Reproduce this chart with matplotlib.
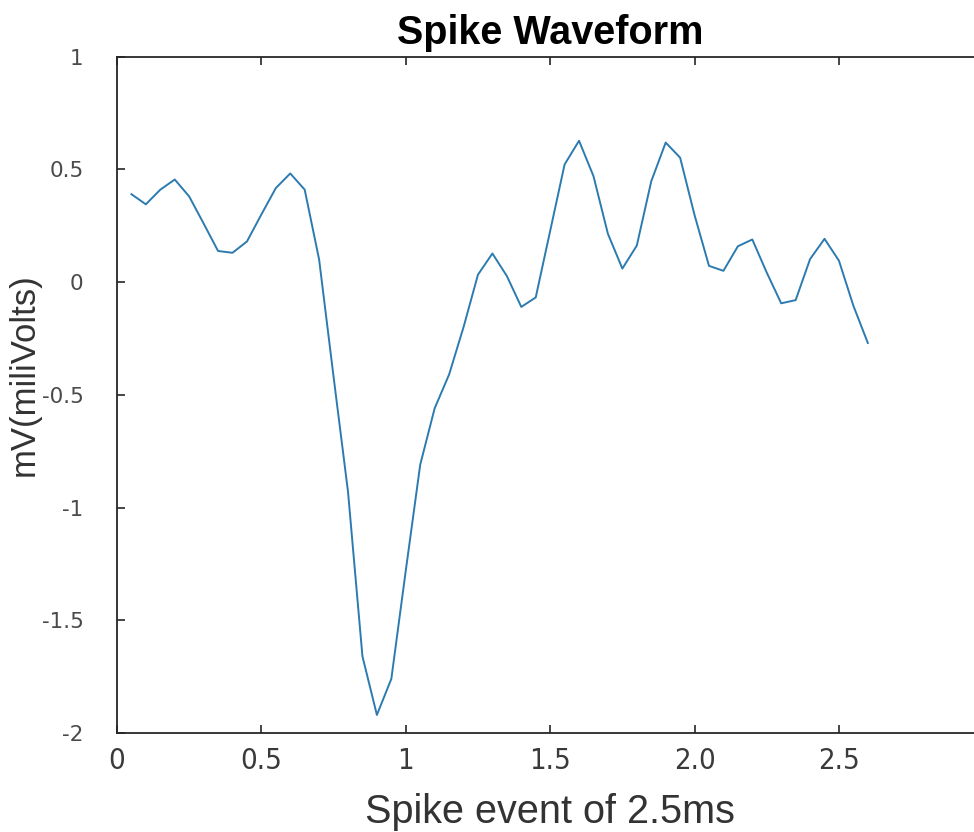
import numpy as np
import matplotlib
matplotlib.use('Agg')
import matplotlib.pyplot as plt

# spike waveform, 52 samples at 20 kHz (0.05 ms step)
sample_idx = np.arange(1, 53)
t_ms = sample_idx / 20.0
mv = [0.39, 0.345, 0.41, 0.455, 0.38, 0.26, 0.138, 0.13, 0.18, 0.30,
      0.417, 0.482, 0.41, 0.10, -0.42, -0.93, -1.66, -1.92, -1.76, -1.28,
      -0.81, -0.56, -0.41, -0.20, 0.033, 0.127, 0.027, -0.11, -0.068, 0.227,
      0.522, 0.627, 0.47, 0.214, 0.06, 0.162, 0.447, 0.619, 0.552, 0.297,
      0.072, 0.05, 0.159, 0.189, 0.042, -0.094, -0.08, 0.102, 0.192, 0.095,
      -0.105, -0.27]

xticks = [0, 0.5, 1, 1.5, 2.0, 2.5, 3.0]
xticklabels = ['0', '0.5', '1', '1.5', '2.0', '2.5', '']
yticks = [-2, -1.5, -1, -0.5, 0, 0.5, 1]
yticklabels = ['-2', '-1.5', '-1', '-0.5', '0', '0.5', '1']

fig = plt.figure(figsize=(9.74, 8.32), dpi=100)
ax = fig.add_axes([0.1201, 0.119, 0.8895, 0.8129])

ax.plot(t_ms, mv, color='#2c7bb0', lw=1.4)

ax.set_xlim(0, 3)
ax.set_ylim(-2, 1)
ax.set_xticks(xticks)
ax.set_xticklabels(xticklabels, family='DejaVu Sans', fontstretch='condensed',
                   fontweight='light', fontsize=21)
ax.set_yticks(yticks)
ax.set_yticklabels(yticklabels, family='DejaVu Sans', fontsize=15.5)

ax.tick_params(axis='x', direction='in', length=6, width=1.2, top=True,
               pad=10, colors='#262626', labelcolor='#3a3a3a')
ax.tick_params(axis='y', direction='in', length=6, width=1.2, right=True,
               pad=24, colors='#262626', labelcolor='#4a4a4a')

for s in ['left', 'bottom', 'top']:
    ax.spines[s].set_linewidth(1.3)
    ax.spines[s].set_color('#262626')
ax.spines['right'].set_visible(False)

ax.set_title('Spike Waveform', family='Liberation Sans', fontweight='bold',
             fontsize=28.5, pad=9)
ax.set_xlabel('Spike event of 2.5ms', family='Liberation Sans', fontsize=28.5,
              color='#333333', labelpad=13)
ax.set_ylabel('mV(miliVolts)', family='Liberation Sans', fontsize=25,
              color='#333333')
ax.yaxis.set_label_coords(-0.0877, 0.53)

fig.savefig('out.png', dpi=100)
